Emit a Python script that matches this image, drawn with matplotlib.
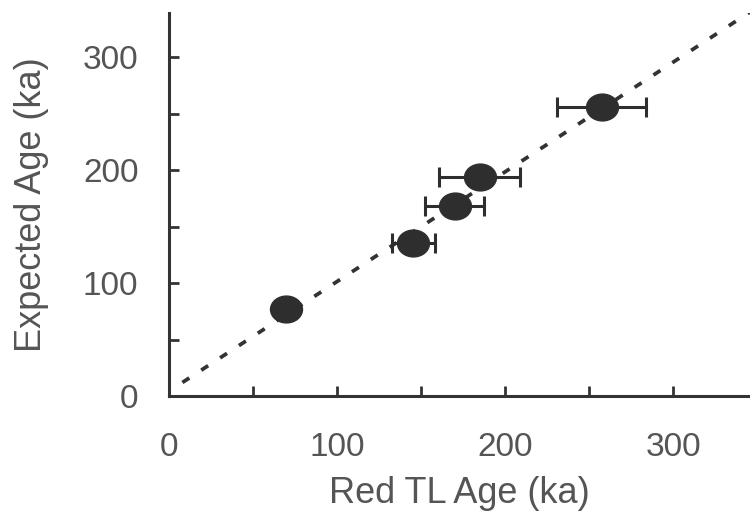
import matplotlib.pyplot as plt
from matplotlib.path import Path
from matplotlib.transforms import Affine2D

# data
red_tl_age = [69.5, 145.5, 170, 185, 257.5]
expected_age = [77, 135, 168, 194, 256]
tl_error = [0, 13, 17.5, 24, 26.5]

line_x = [8, 346]
line_y = [12, 340]

ticks_major = [0, 100, 200, 300]
ticks_minor = [50, 150, 250]

plt.rcParams['font.family'] = ['Liberation Sans', 'DejaVu Sans']

fig = plt.figure(figsize=(7.5, 5.17), dpi=100)
ax = fig.add_axes([0.2253, 0.234, 0.7747, 0.741])

# 1:1 dashed line
ax.plot(line_x, line_y, color='#333333', linewidth=2.7,
        linestyle=(0, (2.2, 3.8)), solid_capstyle='butt', zorder=1)

# slightly flattened round marker
ellipse = Path.unit_circle().transformed(Affine2D().scale(1.0, 0.84))

ax.errorbar(red_tl_age, expected_age, xerr=tl_error, fmt='none',
            ecolor='#2e2e2e', elinewidth=2.2, capsize=7.2, capthick=2.2,
            zorder=2)
ax.plot(red_tl_age, expected_age, linestyle='none', marker=ellipse,
        markersize=23, color='#2e2e2e', zorder=3)

ax.set_xlim(0, 345.8)
ax.set_ylim(0, 339)

ax.set_xticks(ticks_major)
ax.set_yticks(ticks_major)
ax.set_xticks(ticks_minor, minor=True)
ax.set_yticks(ticks_minor, minor=True)

ax.tick_params(which='both', direction='in', length=7, width=2,
               color='#333333')
ax.tick_params(axis='x', which='major', pad=26, labelsize=24,
               labelcolor='#555555')
ax.tick_params(axis='y', which='major', pad=22, labelsize=24,
               labelcolor='#555555')

for side in ['top', 'right']:
    ax.spines[side].set_visible(False)
for side in ['left', 'bottom']:
    ax.spines[side].set_linewidth(2.2)
    ax.spines[side].set_color('#333333')

ax.set_xlabel('Red TL Age (ka)', fontsize=26, color='#555555', labelpad=9)
ax.set_ylabel('Expected Age (ka)', fontsize=26, color='#555555', labelpad=24)

fig.savefig('out.png', dpi=100)
